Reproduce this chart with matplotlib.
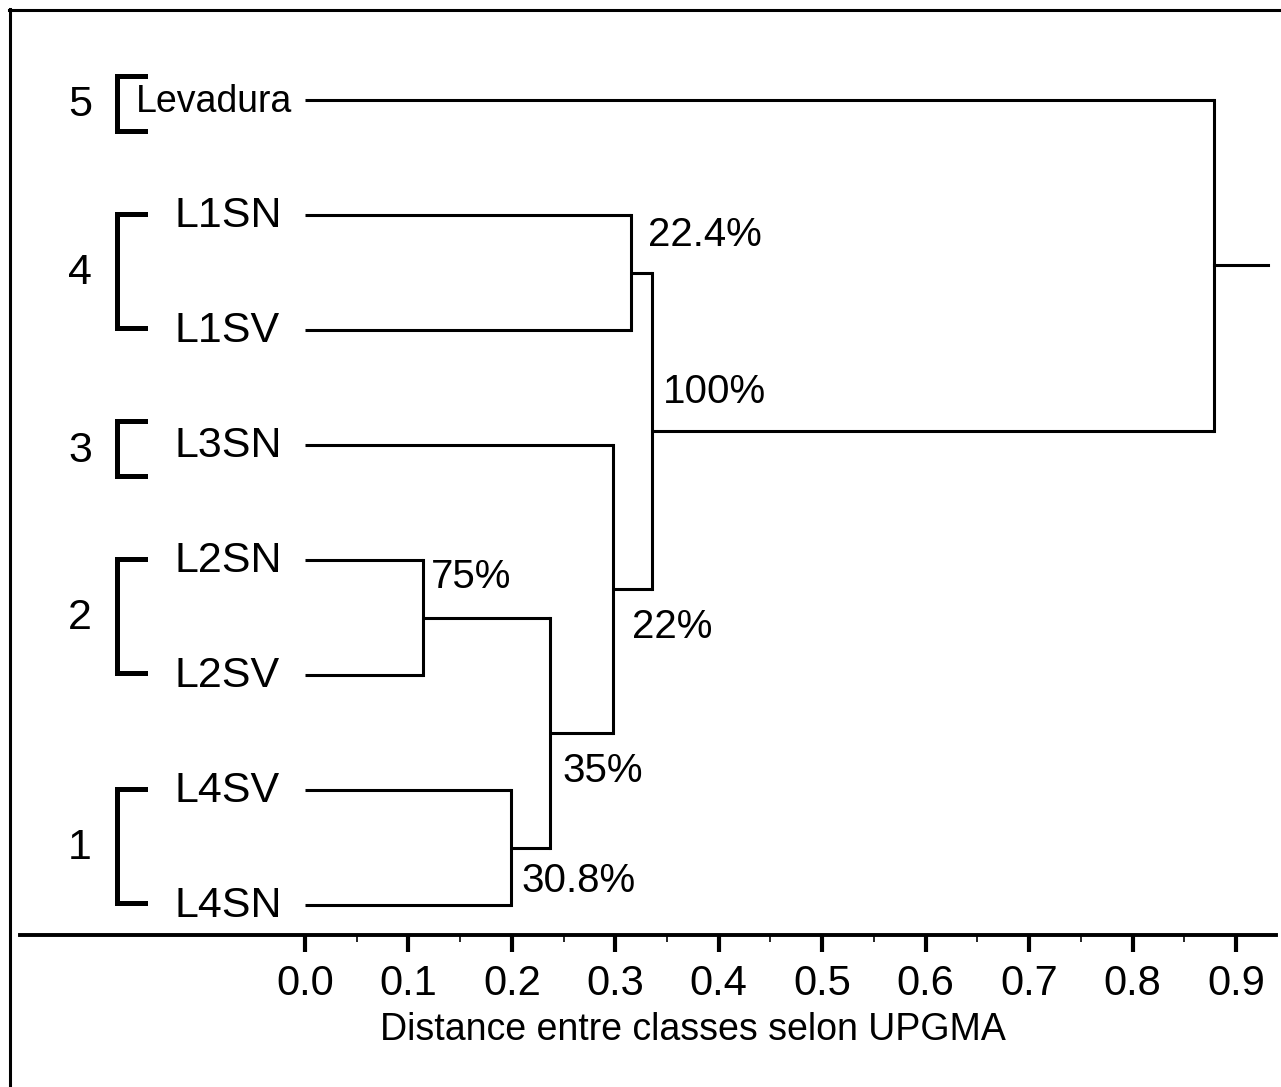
import matplotlib
matplotlib.use("Agg")
import matplotlib.pyplot as plt
from matplotlib.lines import Line2D

# ── data ────────────────────────────────────────────────────
leaves = ["Levadura", "L1SN", "L1SV", "L3SN", "L2SN", "L2SV", "L4SV", "L4SN"]

# merges: node ids 0-7 are leaves, merge k gets id 8+k
merge_left  = [4, 6, 8, 3, 1, 12, 0]
merge_right = [5, 7, 9, 10, 2, 11, 13]
heights     = [0.114, 0.199, 0.237, 0.298, 0.315, 0.335, 0.879]
support     = ["75%", "30.8%", "35%", "22%", "22.4%", "100%", ""]
root_end    = 0.931

group_names  = ["5", "4", "3", "2", "1"]
group_first  = [0, 1, 3, 4, 6]
group_last   = [0, 2, 3, 5, 7]

ticks = [0.0, 0.1, 0.2, 0.3, 0.4, 0.5, 0.6, 0.7, 0.8, 0.9]
xlabel = "Distance entre classes selon UPGMA"

# ── layout (pixels of a 1281x1087 canvas) ───────────────────
W, H = 1281, 1087
X0, UNIT = 305, 1034.4          # pixel of 0.0 and pixels per 1.0
Y0, STEP = 100, 115             # first leaf row, row spacing
AXIS_Y = 935

def px2d(px):
    return (px - X0) / UNIT

plt.rcParams['font.family'] = ['Liberation Sans', 'DejaVu Sans']

fig = plt.figure(figsize=(W / 100, H / 100), dpi=100)
ax = fig.add_axes([0, 0, 1, 1])
ax.set_xlim(px2d(0), px2d(W))
ax.set_ylim(H, 0)

LW = 2.2
# leaf positions
xpos = {i: 0.0 for i in range(len(leaves))}
ypos = {i: Y0 + i * STEP for i in range(len(leaves))}

for k, (a, b, h) in enumerate(zip(merge_left, merge_right, heights)):
    node = len(leaves) + k
    for c in (a, b):
        ax.plot([xpos[c], h], [ypos[c], ypos[c]], color="black", lw=LW,
                solid_capstyle="butt")
    ax.plot([h, h], [ypos[a], ypos[b]], color="black", lw=LW,
            solid_capstyle="projecting")
    xpos[node] = h
    ypos[node] = (ypos[a] + ypos[b]) / 2

root = len(leaves) + len(heights) - 1
ax.plot([xpos[root], root_end], [ypos[root], ypos[root]], color="black", lw=LW)

# support labels (offsets in distance units / pixel rows)
label_dx = [0.008, 0.010, 0.012, 0.018, 0.017, 0.011, 0]
label_dy = [-40, 33, 38, 38, -38, -39, 0]
for k, txt in enumerate(support):
    if not txt:
        continue
    node = len(leaves) + k
    ax.text(xpos[node] + label_dx[k], ypos[node] + label_dy[k], txt,
            fontsize=29, ha="left", va="center")

# leaf labels
for i, name in enumerate(leaves):
    if name == "Levadura":
        ax.text(px2d(136), ypos[i] + 2, name, fontsize=27, ha="left", va="center")
    else:
        ax.text(px2d(174), ypos[i] + 1, name, fontsize=31, ha="left", va="center")

# group brackets
for g, f, l in zip(group_names, group_first, group_last):
    if f == l:
        top, bot = ypos[f] - 24, ypos[l] + 31
    else:
        top, bot = ypos[f] - 1, ypos[l] - 2
    ax.plot([px2d(145), px2d(117), px2d(117), px2d(145)], [top, top, bot, bot],
            color="black", lw=3.6, solid_joinstyle="miter")
    ax.text(px2d(80), (top + bot) / 2 + 2, g, fontsize=31, ha="center", va="center")

# bottom distance axis
for s in ["top", "left", "right"]:
    ax.spines[s].set_visible(False)
ax.spines["bottom"].set_position(("data", AXIS_Y))
ax.spines["bottom"].set_bounds(px2d(20), px2d(1276))
ax.spines["bottom"].set_linewidth(2.8)
ax.set_yticks([])
ax.set_xticks(ticks)
ax.set_xticklabels([f"{t:.1f}" for t in ticks])
ax.set_xticks([t + 0.05 for t in ticks[:-1]], minor=True)
ax.tick_params(axis="x", which="major", direction="out", length=12, width=3,
               labelsize=30, pad=9)
ax.tick_params(axis="x", which="minor", direction="out", length=5, width=1.2)
ax.set_xlabel(xlabel, fontsize=27)
ax.xaxis.set_label_coords(693 / W, (H - 1012) / H)
ax.xaxis.label.set_va("top")

# frame lines visible in the original (left and top)
fig.add_artist(Line2D([9.5 / W, 9.5 / W], [0, (H - 9) / H], color="black", lw=2.2))
fig.add_artist(Line2D([9 / W, 1], [(H - 9.5) / H, (H - 9.5) / H], color="black", lw=2.2))

fig.savefig("out.png", dpi=100)
